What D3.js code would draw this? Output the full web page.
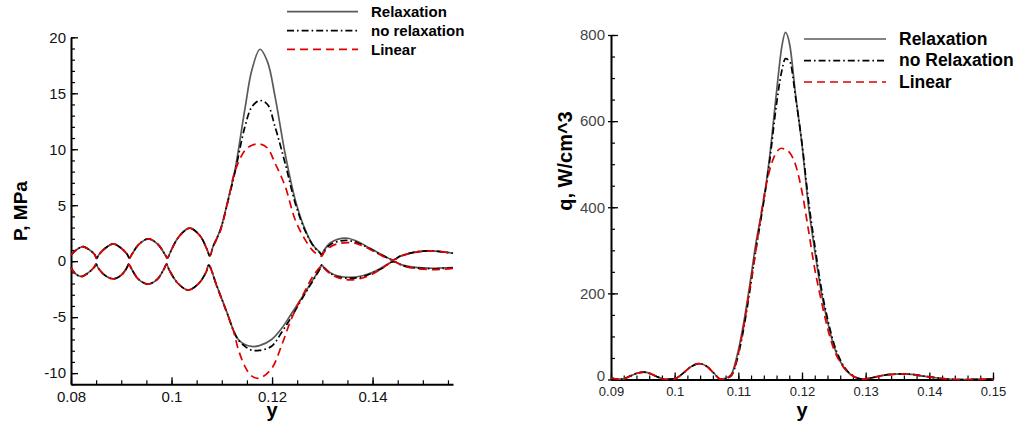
<!DOCTYPE html>
<html><head><meta charset="utf-8">
<script src="https://cdn.jsdelivr.net/npm/d3@7"></script>
<style>
body{margin:0;background:#fff}
svg{display:block;font-family:"Liberation Sans",Arial,Helvetica,sans-serif}
</style>
</head><body>
<svg id="c" width="1017" height="421"></svg>
<script>
// ---------------- DATA ----------------
// Left panel: pressure amplitude envelopes P (MPa) vs y
const pUpY = [0.0800,0.0812,0.0824,0.0837,0.0847,0.0851,0.0855,0.0868,0.0884,0.0900,0.0912,0.0916,0.0921,0.0935,0.0954,0.0973,0.0987,0.0992,0.0997,0.1014,0.1036,0.1057,0.1071,0.1076,
  0.1083,0.1097,0.1113,0.1126,0.1146,0.1160,0.1176,0.1191,0.1206,0.1226,0.1246,0.1266,0.1283,0.1295,0.1299,0.1303,0.1315,0.1330,0.1350,0.1370,0.1395,0.1420,0.1441,0.1455,0.1475,0.1495,0.1514,0.1535,0.1560];
const pUpRelax = [0.55,1.05,1.3,1.0,0.6,0.25,0.55,1.15,1.55,1.15,0.6,0.27,0.6,1.5,2.0,1.5,0.6,0.27,0.75,2.15,2.95,2.25,1.0,0.47,
  1.35,2.8,5.6,8.1,13.6,17.1,18.93,17.8,14.7,9.6,5.5,2.8,1.35,0.8,0.63,0.95,1.6,1.95,2.05,1.75,1.15,0.55,0.12,0.45,0.72,0.88,0.92,0.86,0.71];
const pUpNoRelax = [0.55,1.05,1.3,1.0,0.6,0.25,0.55,1.15,1.55,1.15,0.6,0.27,0.6,1.5,2.0,1.5,0.6,0.27,0.75,2.15,2.95,2.25,1.0,0.47,
  1.35,2.75,5.5,7.9,12.0,13.8,14.35,14.0,12.0,8.75,5.2,2.7,1.3,0.75,0.55,0.85,1.45,1.75,1.85,1.65,1.1,0.5,0.12,0.45,0.72,0.88,0.92,0.86,0.71];
const pUpLinear = [0.55,1.05,1.3,1.0,0.6,0.25,0.55,1.15,1.55,1.15,0.6,0.27,0.6,1.5,2.0,1.5,0.6,0.27,0.75,2.15,2.95,2.25,1.0,0.47,
  1.3,2.7,5.5,8.0,9.9,10.35,10.47,10.1,8.75,6.7,3.7,1.9,0.85,0.5,0.45,0.75,1.25,1.55,1.65,1.55,1.05,0.45,0.1,0.42,0.7,0.86,0.9,0.85,0.7];

const pLoY = [0.0800,0.0808,0.0820,0.0834,0.0846,0.0850,0.0854,0.0867,0.0884,0.0900,0.0911,0.0915,0.0920,0.0934,0.0953,0.0972,0.0985,0.0990,0.0995,0.1012,0.1033,0.1054,0.1069,0.1074,
  0.1090,0.1113,0.1123,0.1133,0.1146,0.1159,0.1175,0.1199,0.1220,0.1239,0.1265,0.1282,0.1295,0.1299,0.1303,0.1315,0.1330,0.1355,0.1380,0.1400,0.1420,0.1441,0.1460,0.1485,0.1514,0.1540,0.1560];
const pLoRelax = [-0.55,-1.1,-1.37,-1.05,-0.55,-0.27,-0.6,-1.25,-1.58,-1.25,-0.6,-0.27,-0.65,-1.6,-2.05,-1.6,-0.7,-0.27,-0.75,-1.95,-2.58,-2.0,-0.95,-0.35,
  -2.2,-4.9,-6.15,-7.0,-7.45,-7.62,-7.55,-7.0,-5.95,-4.65,-2.86,-1.6,-0.7,-0.33,-0.55,-1.0,-1.3,-1.45,-1.3,-1.0,-0.55,-0.05,-0.35,-0.55,-0.63,-0.6,-0.57];
const pLoNoRelax = [-0.55,-1.1,-1.37,-1.05,-0.55,-0.27,-0.6,-1.25,-1.58,-1.25,-0.6,-0.27,-0.65,-1.6,-2.05,-1.6,-0.7,-0.27,-0.75,-1.95,-2.58,-2.0,-0.95,-0.35,
  -2.2,-4.95,-6.2,-7.05,-7.6,-7.95,-7.97,-7.6,-6.3,-4.95,-2.95,-1.7,-0.7,-0.33,-0.55,-1.05,-1.4,-1.52,-1.4,-1.05,-0.6,-0.05,-0.4,-0.6,-0.68,-0.65,-0.6];
const pLoLinear = [-0.55,-1.1,-1.37,-1.05,-0.55,-0.27,-0.6,-1.25,-1.58,-1.25,-0.6,-0.27,-0.65,-1.6,-2.05,-1.6,-0.7,-0.27,-0.75,-1.95,-2.58,-2.0,-0.95,-0.35,
  -2.25,-4.95,-6.2,-7.9,-9.4,-10.25,-10.45,-9.6,-7.4,-5.1,-2.7,-1.3,-0.55,-0.4,-0.6,-1.1,-1.45,-1.67,-1.5,-1.15,-0.6,-0.05,-0.4,-0.65,-0.75,-0.72,-0.65];

// Right panel: q (W/cm^3) vs y
const qY = [0.0900,0.0910,0.0918,0.0930,0.0942,0.0952,0.0963,0.0975,0.0987,0.1000,
  0.1012,0.1025,0.1038,0.1050,0.1062,0.1072,0.1080,0.1089,0.1098,0.1108,
  0.1118,0.1128,0.1138,0.1149,0.1160,0.1168,0.1174,0.1181,0.1190,0.1200,
  0.1210,0.1220,0.1230,0.1240,0.1250,0.1260,0.1270,0.1280,0.1294,0.1310,
  0.1325,0.1340,0.1356,0.1372,0.1390,0.1410,0.1430,0.1445,0.1460,0.1480,0.1500];
const qRelax = [4,1,1,8,15,17,13,5,0.5,2, 13,29,37,31,14,1,3,12,55,128,
  220,320,400,515,668,770,806,775,660,545, 405,300,205,135,78,42,20,8,1,4,
  9,12,13,12,8,4,1,0,0,0.5,1];
const qNoRelax = [4,1,1,8,15,17,13,5,0.5,2, 13,29,37,31,14,1,2,9,45,115,
  205,305,395,505,640,715,745,738,655,548, 418,312,215,142,84,46,22,9,1,4,
  9,12,13,12,8,4,1,0,0,0.5,1];
const qLinear = [4,1,1,8,15,17,13,5,0.5,2, 13,29,37,31,14,1,2,10,48,120,
  212,305,405,485,528,537,534,526,498,436, 348,257,185,120,70,40,20,8,1,4,
  9,12,13,12,8,4,1,0,0,0.5,1];

// Ticks / labels
const pXMajor = [0.08,0.10,0.12,0.14];
const pXLabels = ["0.08","0.1","0.12","0.14"];
const pYMajor = [-10,-5,0,5,10,15,20];
const pYLabels = ["-10","-5","0","5","10","15","20"];
const qXMajor = [0.09,0.10,0.11,0.12,0.13,0.14,0.15];
const qXLabels = ["0.09","0.1","0.11","0.12","0.13","0.14","0.15"];
const qYMajor = [0,200,400,600,800];
const qYLabels = ["0","200","400","600","800"];
const legendLeft = ["Relaxation","no relaxation","Linear"];
const legendRight = ["Relaxation","no Relaxation","Linear"];

// ---------------- STYLE ----------------
const styles = [
  {color:"#5a5a5a", dash:null, w:1.7},
  {color:"#000000", dash:"7,3,1.6,3", w:1.7},
  {color:"#e00000", dash:"8,5", w:1.7}
];

const svg = d3.select("#c");

function minorTicks(lo, hi, step){
  const n = Math.round((hi-lo)/step);
  return d3.range(n+1).map(i => +(lo + i*step).toFixed(6));
}

function styleAxis(g, fs, color){
  g.select(".domain").attr("stroke","#000").attr("stroke-width",2);
  g.selectAll(".tick line").attr("stroke","#000").attr("stroke-width",1.3);
  g.selectAll(".tick text").attr("font-size",fs).attr("fill",color).attr("font-family","'Liberation Sans',Arial,sans-serif");
}

// ---------------- LEFT PANEL ----------------
const xL = d3.scaleLinear().domain([0.08,0.156]).range([71,453]);
const yL = d3.scaleLinear().domain([-11,20]).range([384.3,37.3]);

svg.append("g").attr("transform","translate(0,384.3)")
  .call(d3.axisBottom(xL).tickValues(minorTicks(0.08,0.155,0.005)).tickSize(-4).tickSizeOuter(0).tickFormat(""))
  .call(g=>{g.select(".domain").remove(); g.selectAll("line").attr("stroke","#000").attr("stroke-width",1.2);});
svg.append("g").attr("transform","translate(71,0)")
  .call(d3.axisLeft(yL).tickValues(minorTicks(-11,20,1)).tickSize(-4).tickSizeOuter(0).tickFormat(""))
  .call(g=>{g.select(".domain").remove(); g.selectAll("line").attr("stroke","#000").attr("stroke-width",1.2);});

const gxL = svg.append("g").attr("transform","translate(0,384.3)")
  .call(d3.axisBottom(xL).tickValues(pXMajor).tickSize(-7).tickSizeOuter(0).tickPadding(7).tickFormat((d,i)=>pXLabels[i]));
styleAxis(gxL, 15, "#111");
const gyL = svg.append("g").attr("transform","translate(71,0)")
  .call(d3.axisLeft(yL).tickValues(pYMajor).tickSize(-7).tickSizeOuter(0).tickPadding(5).tickFormat((d,i)=>pYLabels[i]));
styleAxis(gyL, 15, "#111");

const lineL = d3.line().x(d=>xL(d[0])).y(d=>yL(d[1])).curve(d3.curveCatmullRom.alpha(0.5));
const leftSeries = [
  [d3.zip(pUpY,pUpRelax), d3.zip(pLoY,pLoRelax)],
  [d3.zip(pUpY,pUpNoRelax), d3.zip(pLoY,pLoNoRelax)],
  [d3.zip(pUpY,pUpLinear), d3.zip(pLoY,pLoLinear)]
];
leftSeries.forEach((pair,i)=>{
  pair.forEach(data=>{
    svg.append("path").datum(data).attr("d",lineL)
      .attr("fill","none").attr("stroke",styles[i].color).attr("stroke-width",styles[i].w)
      .attr("stroke-dasharray",styles[i].dash);
  });
});

svg.append("text").attr("transform","translate(27,211) rotate(-90)")
  .attr("text-anchor","middle").attr("font-weight","bold").attr("font-size",19).text("P, MPa");
svg.append("text").attr("x",272).attr("y",417).attr("text-anchor","middle")
  .attr("font-weight","bold").attr("font-size",20).text("y");

const legL = [11.7,30.7,49.3];
legendLeft.forEach((t,i)=>{
  svg.append("line").attr("x1",287).attr("x2",358).attr("y1",legL[i]).attr("y2",legL[i])
    .attr("stroke",styles[i].color).attr("stroke-width",styles[i].w).attr("stroke-dasharray",styles[i].dash);
  svg.append("text").attr("x",371).attr("y",legL[i]+5.5).attr("font-weight","bold").attr("font-size",15).text(t);
});

// ---------------- RIGHT PANEL ----------------
const xR = d3.scaleLinear().domain([0.09,0.15]).range([611,993]);
const yR = d3.scaleLinear().domain([0,800]).range([379.5,35]);

svg.append("g").attr("transform","translate(0,379.5)")
  .call(d3.axisBottom(xR).tickValues(minorTicks(0.09,0.15,0.002)).tickSize(-4).tickSizeOuter(0).tickFormat(""))
  .call(g=>{g.select(".domain").remove(); g.selectAll("line").attr("stroke","#000").attr("stroke-width",1.2);});
svg.append("g").attr("transform","translate(611,0)")
  .call(d3.axisLeft(yR).tickValues(minorTicks(0,800,50)).tickSize(-4).tickSizeOuter(0).tickFormat(""))
  .call(g=>{g.select(".domain").remove(); g.selectAll("line").attr("stroke","#000").attr("stroke-width",1.2);});
svg.append("g").attr("transform","translate(611,0)")
  .call(d3.axisLeft(yR).tickValues(qYMajor).tickSize(-7).tickSizeOuter(0).tickFormat(""))
  .call(g=>{g.select(".domain").remove(); g.selectAll("line").attr("stroke","#000").attr("stroke-width",1.3);});

const gxR = svg.append("g").attr("transform","translate(0,379.5)")
  .call(d3.axisBottom(xR).tickValues(qXMajor).tickSize(-7).tickSizeOuter(0).tickPadding(7).tickFormat((d,i)=>qXLabels[i]));
styleAxis(gxR, 13, "#222");
const gyR = svg.append("g").attr("transform","translate(611,0)")
  .call(d3.axisLeft(yR).tickValues(qYMajor).tickSize(3).tickSizeOuter(0).tickPadding(3).tickFormat((d,i)=>qYLabels[i]));
styleAxis(gyR, 15, "#444");
gyR.selectAll(".tick text").filter(d=>d===0).attr("dy","0.05em");

const lineR = d3.line().x(d=>xR(d[0])).y(d=>yR(d[1])).curve(d3.curveMonotoneX);
[qRelax,qNoRelax,qLinear].forEach((vals,i)=>{
  svg.append("path").datum(d3.zip(qY,vals)).attr("d",lineR)
    .attr("fill","none").attr("stroke",styles[i].color).attr("stroke-width",styles[i].w)
    .attr("stroke-dasharray",styles[i].dash);
});

svg.append("text").attr("transform","translate(572,161) rotate(-90)")
  .attr("text-anchor","middle").attr("font-weight","bold").attr("font-size",20).text("q, W/cm^3");
svg.append("text").attr("x",802).attr("y",417).attr("text-anchor","middle")
  .attr("font-weight","bold").attr("font-size",20).text("y");

const legR = [39,60.7,82];
legendRight.forEach((t,i)=>{
  svg.append("line").attr("x1",804).attr("x2",886).attr("y1",legR[i]).attr("y2",legR[i])
    .attr("stroke",styles[i].color).attr("stroke-width",styles[i].w).attr("stroke-dasharray",styles[i].dash);
  svg.append("text").attr("x",899).attr("y",legR[i]+5.5).attr("font-weight","bold").attr("font-size",17.5).text(t);
});
</script>
</body></html>
